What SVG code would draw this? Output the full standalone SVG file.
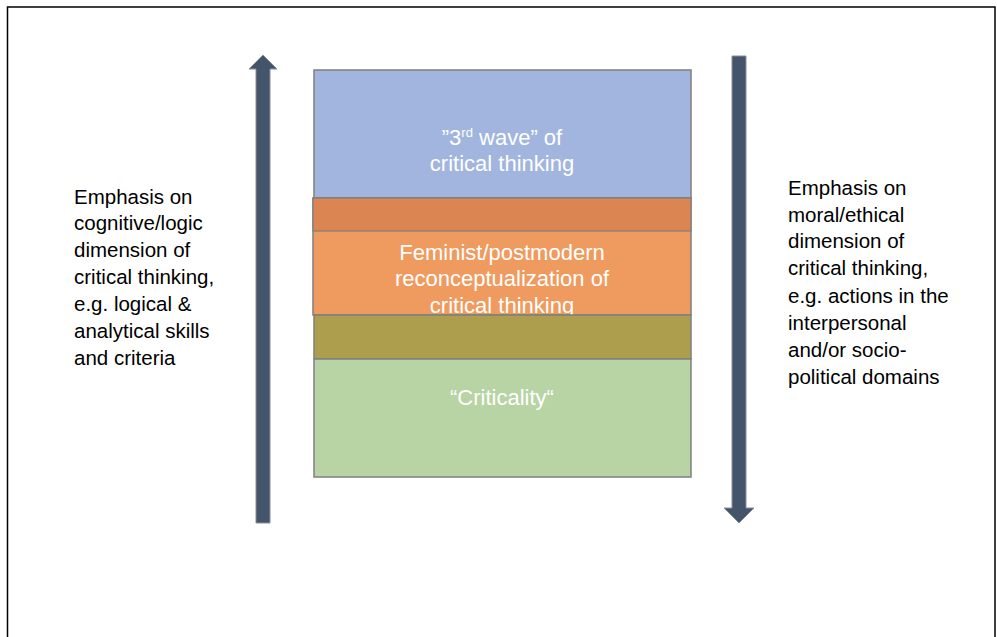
<svg xmlns="http://www.w3.org/2000/svg" width="997" height="637" viewBox="0 0 997 637">
<style>
.box{stroke:#7f7f7f;stroke-width:1.5}
.in{font-family:"Liberation Sans",Arial,sans-serif;font-size:22px;fill:#ffffff;text-anchor:middle}
.side{font-family:"Liberation Sans",Arial,sans-serif;font-size:20.5px;fill:#000000}
.arr{fill:#44546a;stroke:#8a8f98;stroke-width:1}
</style>
<rect x="0" y="0" width="997" height="637" fill="#ffffff"/>
<rect x="7.5" y="7" width="987.5" height="640" fill="none" stroke="#000000" stroke-width="1.5"/>
<g id="connectors">
<path class="arr" d="M256,523 L256,69 L249,69 L263,55 L277,69 L270,69 L270,523 Z"/>
<path class="arr" d="M732,56 L746,56 L746,508 L754,508 L739,523 L724,508 L732,508 Z"/>
</g>
<g id="wave3">
<rect class="box" x="314" y="70" width="377" height="128" fill="#a2b5de"/>
<text class="in" x="502" y="145">”3<tspan font-size="13" dy="-8">rd</tspan><tspan dy="8"> wave” of</tspan></text>
<text class="in" x="502" y="171">critical thinking</text>
</g>
<g id="feminist">
<rect class="box" x="313" y="198" width="378" height="117" fill="#ef9a5e"/>
<rect x="313" y="198" width="378" height="33" fill="#db8552" stroke="#7f7f7f" stroke-width="1.2"/>
<text class="in" x="502" y="260">Feminist/postmodern</text>
<text class="in" x="502" y="286">reconceptualization of</text>
<text class="in" x="502" y="313">critical thinking</text>
</g>
<g id="overlap">
<rect class="box" x="314" y="315" width="377" height="44" fill="#ad9e4e"/>
</g>
<g id="criticality">
<rect class="box" x="314" y="359" width="377" height="118" fill="#b8d4a4"/>
<text class="in" x="502" y="405">“Criticality“</text>
</g>
<g id="left-label">
<text class="side" x="74" y="204">Emphasis on</text>
<text class="side" x="74" y="230">cognitive/logic</text>
<text class="side" x="74" y="257">dimension of</text>
<text class="side" x="74" y="284">critical thinking,</text>
<text class="side" x="74" y="311">e.g. logical &amp;</text>
<text class="side" x="74" y="338">analytical skills</text>
<text class="side" x="74" y="365">and criteria</text>
</g>
<g id="right-label">
<text class="side" x="788" y="195">Emphasis on</text>
<text class="side" x="788" y="222">moral/ethical</text>
<text class="side" x="788" y="248">dimension of</text>
<text class="side" x="788" y="275">critical thinking,</text>
<text class="side" x="788" y="303">e.g. actions in the</text>
<text class="side" x="788" y="330">interpersonal</text>
<text class="side" x="788" y="357">and/or socio-</text>
<text class="side" x="788" y="384">political domains</text>
</g>
</svg>
